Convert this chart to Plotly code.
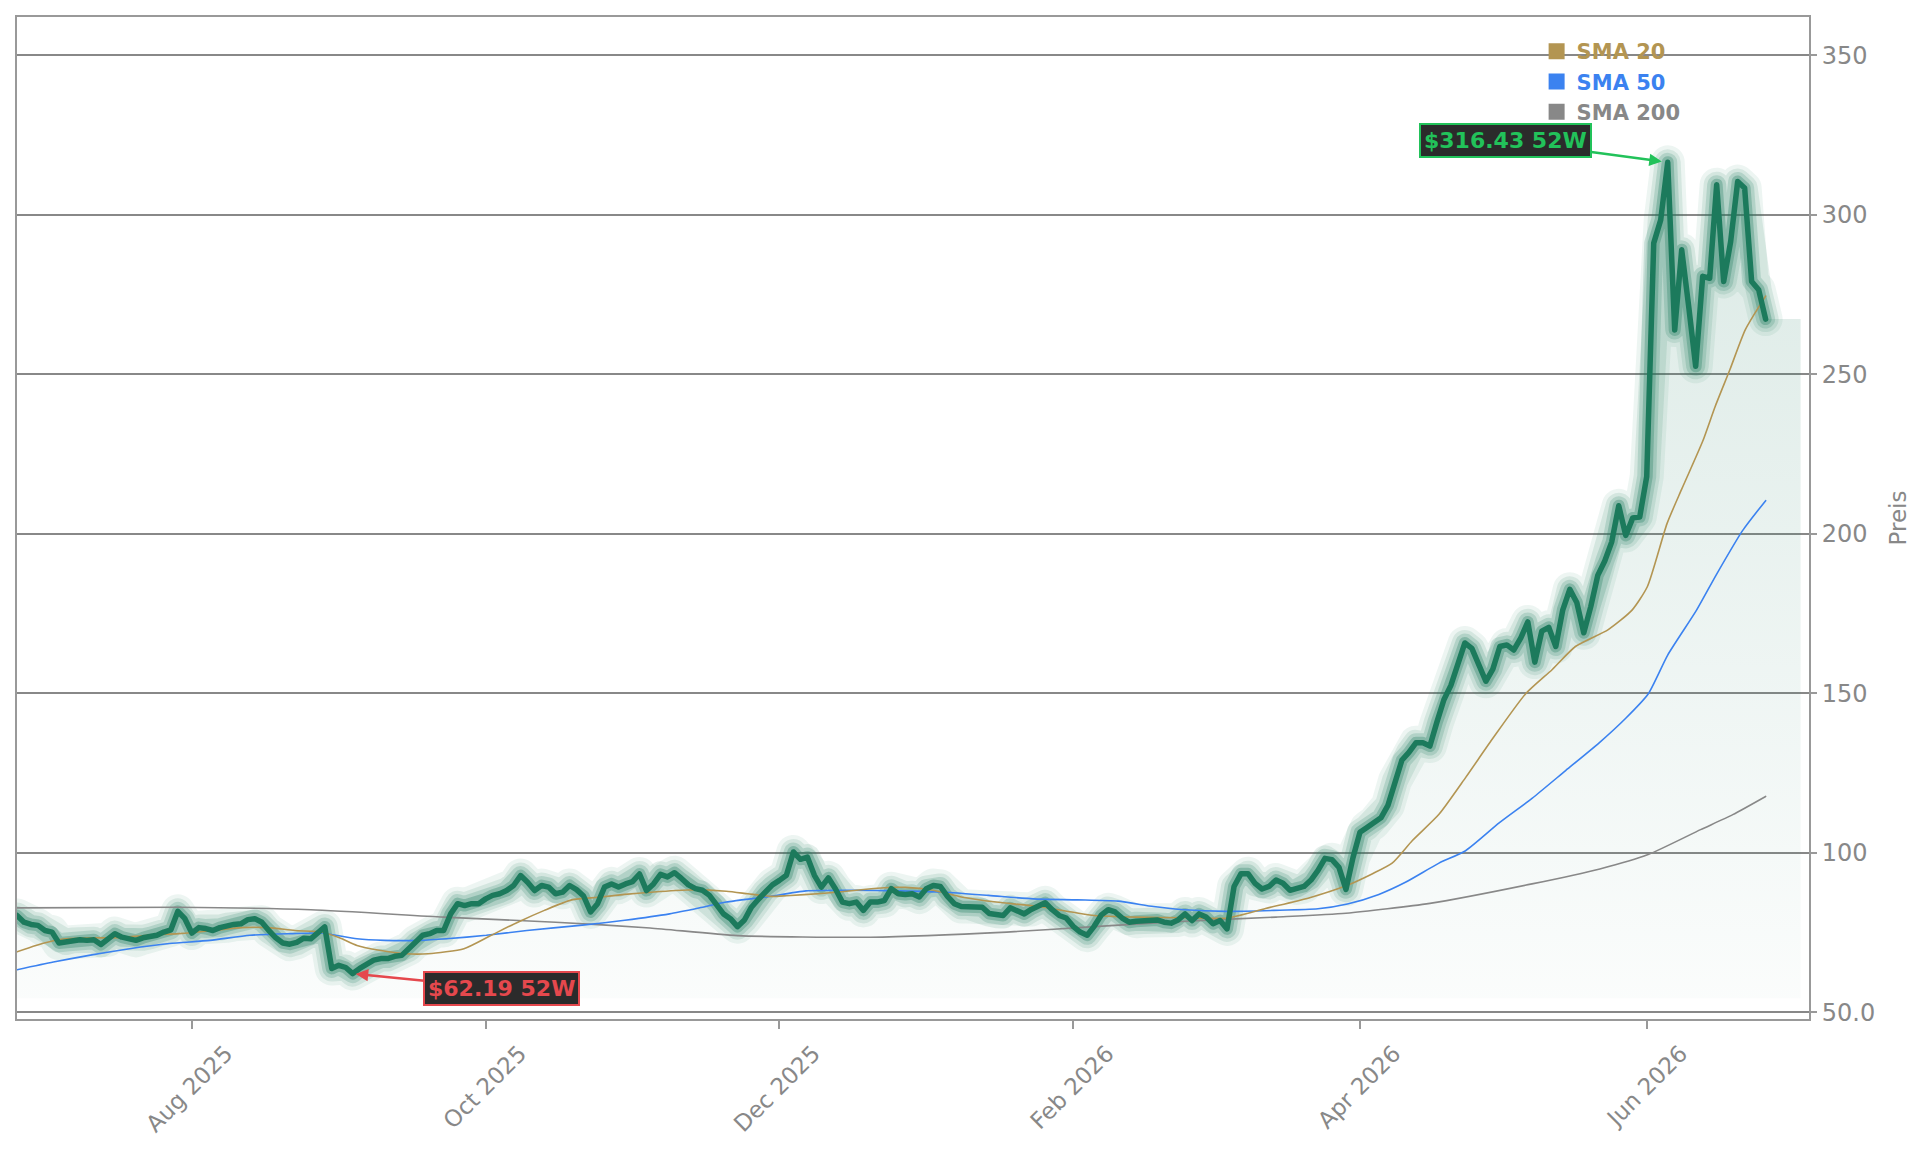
import plotly.graph_objects as go

# ---------------- data ----------------
# daily closing price, one value per trading day (index 0 .. 250)
price = [
    80.4, 78.3, 77.6, 77.3, 75.7, 75.2, 71.8, 72.1, 72.6, 72.8,
    72.6, 72.8, 71.3, 72.8, 74.7, 73.6, 73.1, 72.6, 73.4, 73.9,
    74.2, 75.2, 75.9, 81.7, 79.4, 74.9, 76.6, 76.3, 75.7, 76.6,
    77.2, 77.6, 77.8, 79.1, 79.4, 78.3, 75.7, 73.4, 71.8, 71.4,
    72.0, 73.3, 73.1, 74.9, 76.8, 63.8, 64.8, 64.1, 62.19, 63.8,
    65.3, 66.4, 66.9, 66.9, 67.6, 67.9, 70.0, 72.1, 74.2, 74.7,
    75.7, 75.7, 80.9, 84.1, 83.5, 84.1, 84.1, 85.6, 86.7, 87.2,
    88.2, 89.8, 92.9, 90.8, 88.2, 89.8, 89.3, 87.2, 87.7, 89.8,
    88.5, 86.5, 81.5, 84.1, 89.3, 90.3, 89.3, 90.3, 91.0, 93.4,
    88.2, 90.3, 93.3, 92.5, 93.8, 92.0, 90.0, 88.8, 88.3, 86.7,
    84.1, 80.9, 79.4, 76.9, 79.0, 83.0, 85.5, 88.0, 90.0, 91.4,
    93.0, 100.3, 98.0, 98.7, 93.0, 89.3, 92.2, 88.8, 84.6, 84.1,
    84.6, 82.0, 84.6, 84.6, 85.1, 88.8, 87.2, 87.0, 87.2, 86.2,
    88.8, 89.8, 89.5, 86.5, 84.1, 83.2, 83.2, 83.1, 83.0, 81.0,
    80.5, 80.4, 82.8, 82.0, 80.9, 82.3, 83.3, 84.4, 82.2, 80.4,
    79.6, 77.0, 75.2, 74.2, 77.0, 80.5, 82.2, 81.5, 79.6, 78.3,
    78.6, 78.8, 78.8, 79.0, 78.3, 78.0, 79.0, 80.9, 78.8, 80.9,
    79.9, 77.8, 78.8, 76.2, 89.5, 93.5, 93.5, 90.5, 88.7, 89.5,
    91.5, 90.5, 88.3, 89.0, 89.5, 91.5, 94.5, 98.3, 97.9, 95.5,
    88.6, 98.5, 106.5, 108.0, 109.5, 111.0, 114.9, 122.6, 129.1, 131.5,
    134.5, 134.5, 133.5, 141.0, 148.0, 152.5, 159.5, 165.8, 164.1, 158.7,
    153.8, 157.6, 164.7, 165.2, 163.6, 167.4, 172.4, 159.8, 169.5, 170.7,
    164.7, 176.2, 182.6, 178.5, 169.0, 177.2, 187.0, 191.5, 197.5, 208.8,
    199.5, 205.0, 205.3, 218.0, 291.1, 298.4, 316.43, 263.9, 289.0, 271.3,
    252.5, 280.7, 280.1, 309.4, 279.1, 291.6, 310.4, 308.4, 279.1, 276.5,
    267.3,
]

# moving averages, read at sample positions (trading-day index, value)
sma20_x = [0, 2.7, 5.9, 10.3, 14.2, 18.6, 23.1, 28.2, 32.0, 35.9, 39.7, 43.5,
           46.1, 48.6, 51.8, 55.6, 58.8, 63.9, 67.8, 71.6, 75.4, 79.3, 83.1,
           86.9, 90.7, 95.8, 101.4, 104.5, 107.7, 110, 115, 120, 124, 127,
           131, 135, 140, 146, 151, 154, 160, 167, 173, 178.5, 184.7, 190,
           193.8, 196.6, 199.5, 203.3, 207.1, 210.9, 215.7, 219.5, 222.8,
           227.5, 230.9, 233.1, 235.9, 238, 241, 242.8, 244.9, 247.1, 250]
sma20_y = [69.0, 71.0, 72.8, 73.4, 73.4, 74.2, 74.7, 75.7, 76.6, 76.6, 75.7, 75.2,
           73.4, 71.0, 69.5, 68.4, 68.4, 70.0, 74.2, 78.3, 82.0, 85.3, 86.1,
           87.0, 87.7, 88.4, 88.0, 87.2, 86.4, 86.6, 87.3, 88.3, 89.1, 89.2,
           88.3, 86.2, 84.6, 83.2, 81.4, 80.4, 79.9, 79.7, 79.6, 82.6, 85.9, 89.7,
           93.5, 96.8, 103.9, 112.1, 123.6, 135.6, 149.9, 157.5, 164.7,
           170.0, 176.1, 183.5, 203.2, 214.0, 229.0, 240.0, 251.5, 264.0, 274.5]

sma50_x = [0, 5.2, 10.3, 16.1, 21.8, 27.6, 33.3, 39.1, 43.5, 48.6, 52.5, 57.6,
           61.4, 67.1, 72.9, 80.5, 86.9, 93.3, 97.6, 101.4, 107.1, 112.8, 119.2,
           126.2, 132.6, 138.9, 145.3, 151.6, 157.4, 162.5, 166.9, 172.7, 179.7,
           186.0, 190.2, 194.7, 198.5, 203.3, 207.1, 211.9, 216.6, 221.4, 226.2,
           230.0, 233.2, 236.0, 240.1, 242.9, 246.7, 250]
sma50_y = [63.4, 65.8, 67.9, 70.0, 71.6, 72.6, 74.2, 74.7, 74.9, 73.1, 72.6, 72.6,
           73.1, 74.2, 75.7, 77.3, 78.9, 80.9, 82.8, 84.6, 86.2, 88.1, 88.3,
           88.1, 87.7, 86.7, 85.6, 85.3, 84.9, 83.2, 82.2, 81.7, 82.0,
           82.5, 84.0, 87.0, 90.8, 96.8, 100.7, 109.4, 117.1, 125.8, 134.5,
           142.2, 149.8, 162.0, 176.0, 187.0, 201.0, 210.4]

sma200_x = [0, 23, 42, 61, 77, 90.5, 103, 122, 141.5, 154, 167, 180, 190, 202,
            216.6, 226.3, 233.2, 240.7, 245.3, 250]
sma200_y = [82.8, 83.0, 82.2, 79.9, 78.3, 76.5, 74.1, 73.6, 75.2, 76.9, 78.6,
            79.9, 81.1, 84.2, 90.3, 95.0, 99.5, 107.3, 112.0, 117.7]

tick_idx = [25, 67, 109, 151, 192, 233]
tick_labels = ["Aug 2025", "Oct 2025", "Dec 2025", "Feb 2026", "Apr 2026", "Jun 2026"]
y_ticks = [50, 100, 150, 200, 250, 300, 350]
y_tick_labels = ["50.0", "100", "150", "200", "250", "300", "350"]

hi_label = "$316.43 52W"
lo_label = "$62.19 52W"

# ---------------- styling ----------------
FONT = "DejaVu Sans"
GREEN = "#1c7a5c"
GLOW = "30,122,94"
C20, C50, C200 = "#b39552", "#3b82f0", "#888888"
AX = "#999999"
TXT = "#888888"
UP, DOWN = "#22c25a", "#e5484d"

x_idx = list(range(len(price)))
fill_end = 255          # fill continues a little past the last bar
fill_floor = 54.5
x_fill = x_idx + [fill_end]
y_fill = price + [price[-1]]

fig = go.Figure()

# gradient area under the price
fig.add_trace(go.Scatter(x=x_fill, y=[fill_floor] * len(x_fill), mode="lines",
                         line=dict(width=0), showlegend=False, hoverinfo="skip"))
fig.add_trace(go.Scatter(
    x=x_fill, y=y_fill, mode="none", fill="tonexty",
    fillgradient=dict(type="vertical",
                      colorscale=[[0, f"rgba({GLOW},0.02)"], [1, f"rgba({GLOW},0.16)"]],
                      start=fill_floor, stop=max(price)),
    showlegend=False, hoverinfo="skip"))

# glow around the price line
for w, a in [(34, 0.08), (26, 0.12), (19, 0.18), (12, 0.30)]:
    fig.add_trace(go.Scatter(x=x_idx, y=price, mode="lines",
                             line=dict(color=f"rgba({GLOW},{a})", width=w),
                             showlegend=False, hoverinfo="skip"))

# moving averages
for xs, ys, c in [(sma200_x, sma200_y, C200), (sma50_x, sma50_y, C50), (sma20_x, sma20_y, C20)]:
    fig.add_trace(go.Scatter(x=xs, y=ys, mode="lines",
                             line=dict(color=c, width=1.6, shape="spline", smoothing=0.6),
                             showlegend=False, hoverinfo="skip"))

# main price line
fig.add_trace(go.Scatter(x=x_idx, y=price, mode="lines",
                         line=dict(color=GREEN, width=5.5),
                         showlegend=False, hoverinfo="skip"))

# legend entries (square swatches, coloured bold text)
for name, c in [("SMA 20", C20), ("SMA 50", C50), ("SMA 200", C200)]:
    fig.add_trace(go.Scatter(x=[None], y=[None], mode="markers",
                             marker=dict(symbol="square", size=16, color=c),
                             name=f"<span style='color:{c}'><b>{name}</b></span>"))

# 52-week high / low callouts
i_hi = price.index(max(price))
i_lo = price.index(min(price))
fig.add_annotation(x=i_hi, y=price[i_hi], text=f"<b>{hi_label}</b>",
                   ax=-162, ay=-22, showarrow=True, arrowhead=2, arrowsize=1,
                   arrowwidth=2.5, arrowcolor=UP, standoff=6,
                   font=dict(family=FONT, size=22, color=UP),
                   bgcolor="#2b2b2b", bordercolor=UP, borderwidth=2, borderpad=3)
fig.add_annotation(x=i_lo, y=price[i_lo], text=f"<b>{lo_label}</b>",
                   ax=149, ay=15, showarrow=True, arrowhead=2, arrowsize=1,
                   arrowwidth=2.5, arrowcolor=DOWN, standoff=3,
                   font=dict(family=FONT, size=22, color=DOWN),
                   bgcolor="#2b2b2b", bordercolor=DOWN, borderwidth=2, borderpad=3)

fig.update_layout(
    width=1929, height=1151,
    margin=dict(l=17, r=120, t=17, b=132),
    paper_bgcolor="white", plot_bgcolor="white",
    font=dict(family=FONT, color=TXT),
    showlegend=True,
    legend=dict(x=0.848, xanchor="left", y=0.986, yanchor="top",
                traceorder="normal",
                bgcolor="rgba(0,0,0,0)", font=dict(family=FONT, size=21),
                itemsizing="trace", tracegroupgap=0),
    xaxis=dict(range=[0, 256.2], tickmode="array", tickvals=tick_idx, ticktext=tick_labels,
               tickangle=-45, ticks="outside", ticklen=8, tickwidth=1.5, tickcolor=AX,
               tickfont=dict(family=FONT, size=23, color=TXT),
               ticklabelshift=34, ticklabelstandoff=2,
               showgrid=False, zeroline=False,
               showline=True, linecolor=AX, linewidth=2, mirror=True),
    yaxis=dict(range=[47.96, 361.97], side="right", tickmode="array",
               tickvals=y_ticks, ticktext=y_tick_labels,
               ticks="outside", ticklen=6, tickwidth=1.5, tickcolor=AX,
               tickfont=dict(family=FONT, size=24, color=TXT),
               showgrid=True, gridcolor="#888888", gridwidth=1.5, zeroline=False,
               showline=True, linecolor=AX, linewidth=2, mirror=True,
               title=dict(text="Preis", font=dict(family=FONT, size=23, color=TXT), standoff=16)),
)

round_joins = (
    "var s=document.createElement('style');"
    "s.innerHTML='.scatterlayer .js-line{stroke-linejoin:round !important;stroke-linecap:round !important;}';"
    "document.head.appendChild(s);"
)
fig.write_html("out.html", post_script=round_joins)
